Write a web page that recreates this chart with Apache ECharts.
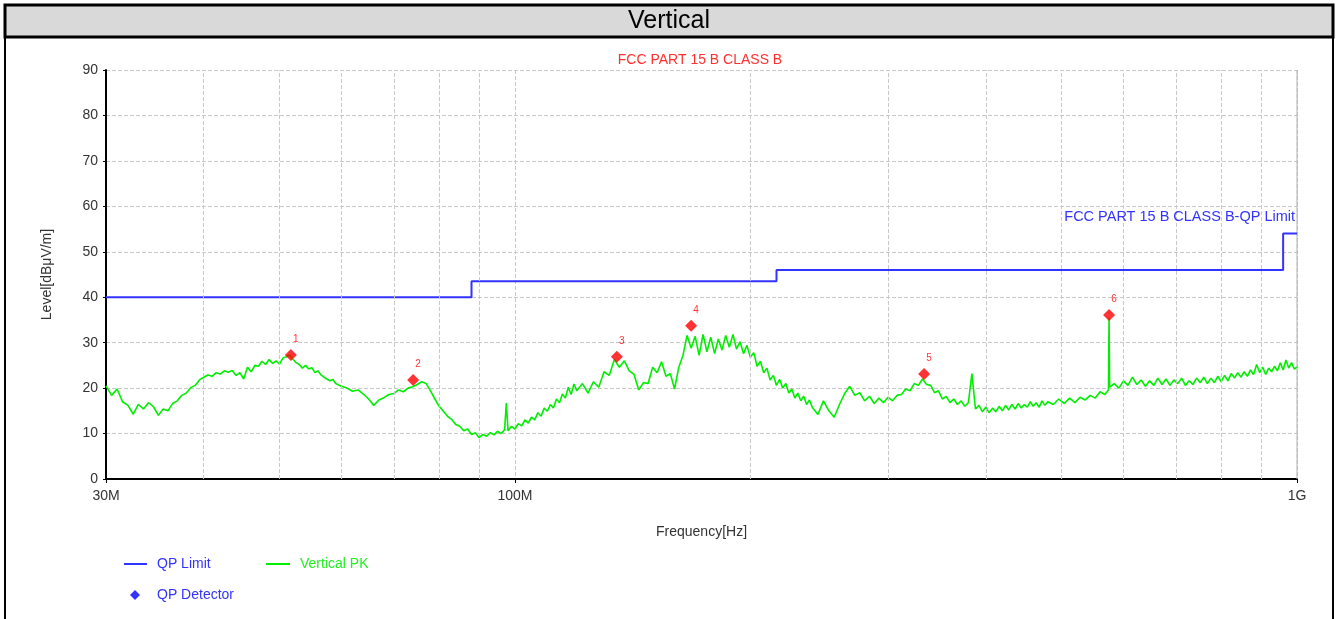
<!DOCTYPE html>
<html>
<head>
<meta charset="utf-8">
<script src="https://cdn.jsdelivr.net/npm/echarts@6/dist/echarts.min.js"></script>
<style>
html,body{margin:0;padding:0;background:#fff;}
#c{width:1338px;height:619px;}
</style>
</head>
<body>
<div id="c"></div>
<script>
// ---- data (frequency in MHz, level in dBuV/m) ----
const limitFreq = [30, 88, 88, 216, 216, 960, 960, 1000];
const limitLevel = [40, 40, 43.5, 43.5, 46, 46, 54, 54];

const detFreq = [51.7, 74.1, 135, 168, 333.6, 575];
const detLevel = [27.3, 21.8, 26.9, 33.7, 23.1, 36.1];
const detLabel = ['1', '2', '3', '4', '5', '6'];

const gridFreq = [40, 50, 60, 70, 80, 90, 200, 300, 400, 500, 600, 700, 800, 900];
const yTicks = [0, 10, 20, 30, 40, 50, 60, 70, 80, 90];

const pk = [
[30,20.5],[30.5,18.4],[31,19.8],[31.5,17.0],[32,16.2],[32.5,14.3],[33,16.4],[33.5,15.4],[34,16.8],[34.5,15.9],
[35,14.0],[35.5,15.4],[36,15.0],[36.5,16.6],[37,17.2],[37.5,18.4],[38,18.9],[38.5,20.1],[39,20.6],[39.5,21.8],
[40,22.4],[40.5,22.9],[41,22.6],[41.5,23.4],[42,23.1],[42.5,23.8],[43,23.5],[43.5,23.9],[44,22.8],[44.5,23.4],
[45,22.0],[45.5,24.6],[46,23.6],[46.5,25.0],[47,24.8],[47.5,25.9],[48,25.2],[48.5,26.3],[49,25.4],[49.5,26.0],
[50,25.3],[50.5,26.6],[51,26.9],[51.5,27.3],[52,26.4],[52.5,25.6],[53,25.2],[53.5,24.4],[54,25.0],[54.5,24.2],
[55,24.5],[55.5,23.4],[56,23.8],[56.5,22.9],[57,22.4],[57.5,22.0],[58,21.6],[58.5,21.9],[59,21.0],[59.5,20.7],
[60,20.4],[61,20.0],[62,19.3],[63,19.6],[64,18.7],[65,17.6],[66,16.2],[67,17.4],[68,17.9],[69,18.6],
[70,18.8],[71,19.6],[72,19.2],[73,20.0],[74,20.3],[75,20.8],[76,21.4],[77,21.0],[78,19.4],[79,17.6],
[80,16.0],[81,14.9],[82,13.8],[83,13.1],[84,12.0],[85,11.6],[86,10.6],[87,11.0],[88,9.8],[89,10.2],
[90,9.1],[91,9.8],[92,9.4],[93,10.2],[94,9.7],[95,10.5],[96,10.0],[97,10.8],[97.5,16.7],[98,10.6],
[99,11.6],[100,11.0],[101,12.2],[102,11.7],[103,13.0],[104,12.3],[105,13.6],[106,13.0],[107,14.6],[108,13.8],
[109,15.6],[110,14.9],[111,16.4],[112,15.6],[113,17.6],[114,16.8],[115,18.7],[116,17.8],[117,20.2],[118,18.6],
[119,20.9],[120,19.4],[122,21.0],[124,18.9],[126,21.4],[128,20.2],[130,23.6],[132,22.8],[134,26.3],[136,24.6],
[138,26.0],[140,23.8],[142,23.0],[144,19.6],[146,21.2],[148,21.0],[150,24.6],[152,23.4],[154,25.8],[156,22.6],
[158,23.2],[160,19.8],[162,24.6],[164,27.2],[166,31.6],[168,28.8],[170,31.4],[172,27.2],[174,31.8],[176,28.0],
[178,31.2],[180,27.6],[182,30.8],[184,28.4],[186,31.6],[188,29.0],[190,31.8],[192,28.6],[194,30.2],[196,27.6],
[198,29.4],[200,26.8],[202,27.8],[204,24.8],[206,25.9],[208,23.4],[210,24.4],[212,21.8],[214,22.8],[216,20.6],
[218,21.9],[220,20.0],[222,21.0],[224,18.9],[226,19.8],[228,17.8],[230,18.9],[232,17.2],[234,18.2],[236,16.4],
[238,17.4],[240,15.8],[244,14.2],[248,17.2],[252,15.0],[256,13.6],[260,16.4],[264,18.8],[268,20.4],[272,18.4],
[276,19.0],[280,17.2],[284,18.2],[288,16.6],[292,17.8],[296,16.8],[300,18.0],[304,17.2],[308,18.4],[312,18.6],
[316,19.8],[320,19.4],[324,21.0],[328,20.6],[332,22.0],[336,20.8],[340,20.6],[344,19.0],[348,19.4],[352,17.6],
[356,18.2],[360,16.8],[364,17.6],[368,16.4],[372,17.2],[376,16.0],[380,16.8],[384,23.2],[388,15.4],[392,16.2],
[396,14.8],[400,15.8],[404,14.6],[408,15.6],[412,14.8],[416,16.0],[420,15.0],[424,16.2],[428,15.2],[432,16.4],
[436,15.4],[440,16.6],[444,15.6],[448,16.4],[452,15.8],[456,17.0],[460,16.0],[464,16.8],[468,15.8],[472,17.2],
[476,16.2],[480,17.0],[488,16.4],[496,17.6],[504,16.6],[512,17.8],[520,16.8],[528,18.0],[536,17.4],[544,18.4],
[552,17.8],[560,19.2],[568,18.6],[574,19.6],[575,35.5],[576,20.2],[584,21.0],[592,20.0],[600,21.6],[608,20.6],
[616,22.4],[624,20.8],[632,21.8],[640,20.4],[648,21.6],[656,20.6],[664,22.2],[672,20.8],[680,22.0],[688,20.6],
[696,21.8],[704,21.0],[712,22.2],[720,20.6],[728,21.6],[736,20.8],[744,22.2],[752,21.2],[760,22.4],[768,21.0],
[776,22.2],[784,21.2],[792,22.6],[800,21.4],[808,22.8],[816,21.6],[824,23.2],[832,22.2],[840,23.4],[848,22.4],
[856,23.6],[864,22.6],[872,24.0],[880,23.0],[888,25.2],[896,23.4],[904,24.6],[912,23.0],[920,24.4],[928,23.6],
[936,24.8],[944,23.8],[952,25.6],[960,24.0],[968,26.2],[976,24.4],[984,25.6],[992,24.2],[1000,24.6]
];

// ---- chart ----
const chart = echarts.init(document.getElementById('c'), null, {renderer: 'canvas'});
const FONT = 'Liberation Sans, Arial, sans-serif';
const FS = 14;
const BLUE = '#3333ff';
const GREEN = '#00ee00';
const RED = '#ff0000';

const limitData = limitFreq.map((f, i) => [f, limitLevel[i]]);
const detData = detFreq.map((f, i) => ({value: [f, detLevel[i]], name: detLabel[i]}));

const legendBase = {padding: 0, selectedMode: false, textStyle: {fontFamily: FONT, fontSize: FS, padding: [0, 0, 0, 5]}};

chart.setOption({
  animation: false,
  backgroundColor: '#ffffff',
  grid: {left: 106, right: 41, top: 70, bottom: 140, containLabel: false},
  xAxis: {
    type: 'log', logBase: 10, min: 30, max: 1000,
    name: 'Frequency[Hz]', nameLocation: 'middle', nameGap: 46,
    nameTextStyle: {fontFamily: FONT, fontSize: FS, color: '#333'},
    axisLine: {show: true, lineStyle: {color: '#000', width: 2}},
    axisTick: {show: true, length: 4, lineStyle: {color: '#000'}},
    axisLabel: {fontFamily: FONT, fontSize: FS, color: '#333', margin: 10,
      formatter: function (v) { const r = Math.round(v); return r >= 1000 ? '1G' : r + 'M'; }},
    splitLine: {show: true, lineStyle: {color: '#c8c8c8', type: 'dashed'}},
    minorTick: {show: false}, minorSplitLine: {show: false}
  },
  yAxis: {
    type: 'value', min: 0, max: 90, interval: 10,
    name: 'Level[dBμV/m]', nameLocation: 'middle', nameGap: 52, nameRotate: 90,
    nameTextStyle: {fontFamily: FONT, fontSize: FS, color: '#333'},
    axisLine: {show: true, lineStyle: {color: '#000', width: 2}},
    axisTick: {show: true, length: 3, lineStyle: {color: '#000'}},
    axisLabel: {fontFamily: FONT, fontSize: FS, color: '#333', margin: 8},
    splitLine: {show: true, lineStyle: {color: '#c8c8c8', type: 'dashed'}}
  },
  legend: [
    Object.assign({}, legendBase, {data: [{name: 'QP Limit', icon: 'rect', textStyle: {color: BLUE}}],
      left: 124, top: 557, itemWidth: 23, itemHeight: 2}),
    Object.assign({}, legendBase, {data: [{name: 'Vertical PK', icon: 'rect', textStyle: {color: '#22ee22'}}],
      left: 266, top: 557, itemWidth: 24, itemHeight: 2}),
    Object.assign({}, legendBase, {data: [{name: 'QP Detector', icon: 'diamond', itemStyle: {color: '#0000ff'}, textStyle: {color: BLUE}}],
      left: 130, top: 588, itemWidth: 10, itemHeight: 10, textStyle: {fontFamily: FONT, fontSize: FS, padding: [0, 0, 0, 12]}})
  ],
  graphic: [
    {type: 'rect', shape: {x: 5, y: 5, width: 1328, height: 640}, style: {fill: 'none', stroke: '#000', lineWidth: 2}, z: 100},
    {type: 'rect', shape: {x: 5, y: 5, width: 1328, height: 32}, style: {fill: '#d9d9d9', stroke: '#000', lineWidth: 3}, z: 99},
    {type: 'text', x: 669, y: 21, style: {text: 'Vertical', fontFamily: FONT, fontSize: 25, fill: '#000', align: 'center', verticalAlign: 'middle'}, z: 101},
    {type: 'text', x: 700, y: 60, style: {text: 'FCC PART 15 B CLASS B', fontFamily: FONT, fontSize: 14, fill: '#ff3030', align: 'center', verticalAlign: 'middle'}, z: 101},
    {type: 'text', x: 1295, y: 217, style: {text: 'FCC PART 15 B CLASS B-QP Limit', fontFamily: FONT, fontSize: 14.5, fill: BLUE, align: 'right', verticalAlign: 'middle'}, z: 101},
    {type: 'line', shape: {x1: 1297, y1: 70, x2: 1297, y2: 479}, style: {stroke: '#b0b0b0', lineWidth: 1}, z: 1}
  ],
  series: [
    {
      name: 'gridlines', type: 'line', data: [[30, 0]], symbol: 'none', silent: true, z: 1,
      lineStyle: {width: 0},
      markLine: {
        silent: true, symbol: 'none', label: {show: false},
        lineStyle: {color: '#c8c8c8', type: 'dashed', width: 1},
        data: gridFreq.map(f => ({xAxis: f}))
      }
    },
    {
      name: 'Vertical PK', type: 'line', data: pk, symbol: 'none', z: 3,
      lineStyle: {color: GREEN, width: 1.6}, itemStyle: {color: GREEN}
    },
    {
      name: 'QP Limit', type: 'line', data: limitData, symbol: 'none', z: 4,
      lineStyle: {color: BLUE, width: 2}, itemStyle: {color: BLUE}
    },
    {
      name: 'QP Detector', type: 'scatter', data: detData, symbol: 'diamond', symbolSize: 12, z: 5,
      itemStyle: {color: RED},
      label: {show: true, position: 'top', offset: [5, 0], color: RED, fontFamily: FONT, fontSize: 10,
        formatter: function (p) { return p.name; }}
    }
  ]
});
</script>
</body>
</html>
